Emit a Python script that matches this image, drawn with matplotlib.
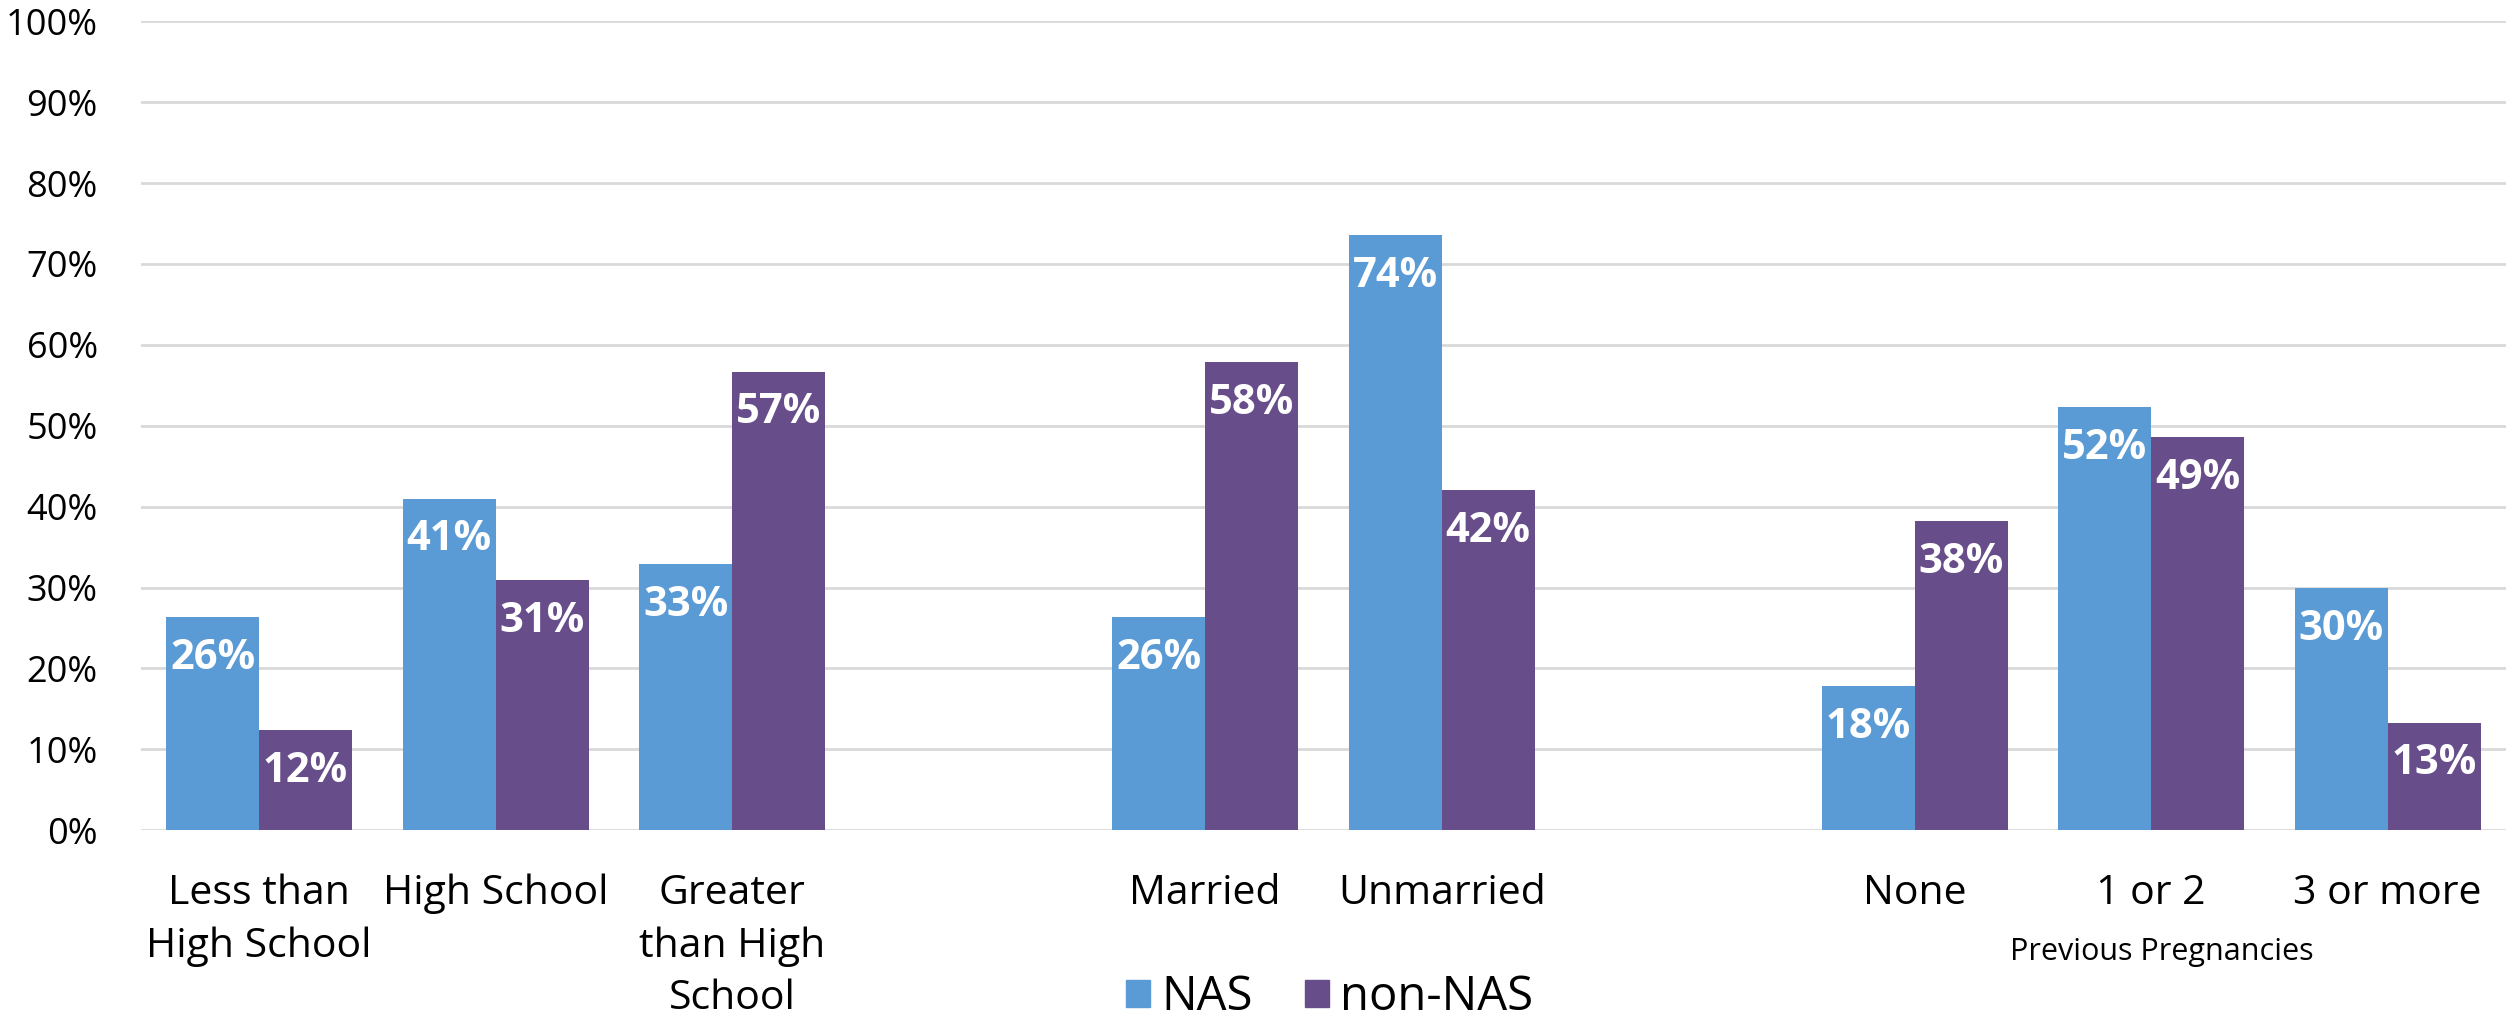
import numpy as np
import matplotlib
matplotlib.use('Agg')
import matplotlib.pyplot as plt
from matplotlib.patches import Patch

plt.rcParams['font.family'] = ['Open Sans', 'DejaVu Sans']

groups = [
    ['Less than\nHigh School', 'High School', 'Greater\nthan High\nSchool'],
    ['Married', 'Unmarried'],
    ['None', '1 or 2', '3 or more'],
]
nas = [26.3, 41.0, 32.9, 26.3, 73.6, 17.8, 52.3, 29.9]
non_nas = [12.4, 30.9, 56.7, 57.9, 42.0, 38.2, 48.6, 13.3]
series_names = ['NAS', 'non-NAS']
yticks = [0, 10, 20, 30, 40, 50, 60, 70, 80, 90, 100]

blue = '#5B9BD5'
purple = '#674E8B'

# slot index for each category, one empty slot between groups
labels = []
pos = []
slot = 0
for g in groups:
    for name in g:
        labels.append(name)
        pos.append(slot)
        slot += 1
    slot += 1
pos = np.array(pos)
nslots = slot - 1

fig = plt.figure(figsize=(25.14, 10.25), dpi=100)
ax = fig.add_axes([0.056, 0.190, 0.9408, 0.7893])

w = 0.393
b1 = ax.bar(pos - w / 2, nas, w, color=blue, zorder=3)
b2 = ax.bar(pos + w / 2, non_nas, w, color=purple, zorder=3)

for bars in (b1, b2):
    for r in bars:
        h = r.get_height()
        ax.annotate(f'{h:.0f}%', (r.get_x() + r.get_width() / 2, h),
                    xytext=(0, -15), textcoords='offset points',
                    ha='center', va='top', color='white',
                    fontsize=30, fontweight='bold', zorder=4)

ax.set_xlim(-0.5, nslots - 0.5)
ax.set_ylim(0, 100)
ax.set_yticks(yticks)
ax.set_yticklabels([f'{t}%' for t in yticks], fontsize=26)
ax.set_xticks(pos)
ax.set_xticklabels(labels, fontsize=29.5, linespacing=1.4)
ax.tick_params(axis='both', length=0)
ax.tick_params(axis='x', pad=31)
ax.tick_params(axis='y', pad=31)
ax.grid(axis='y', color='#D9D9D9', linewidth=2, zorder=0)
for s in ax.spines.values():
    s.set_visible(False)

fig.text(0.860, 0.071, 'Previous Pregnancies', fontsize=22,
         ha='center', va='center')

handles = [Patch(color=blue), Patch(color=purple)]
fig.legend(handles, series_names, loc='center', bbox_to_anchor=(0.529, 0.027),
           ncol=2, frameon=False, fontsize=34, handlelength=0.5,
           handleheight=0.5, handletextpad=0.25, columnspacing=1.1)

fig.savefig('out.png', dpi=100)
